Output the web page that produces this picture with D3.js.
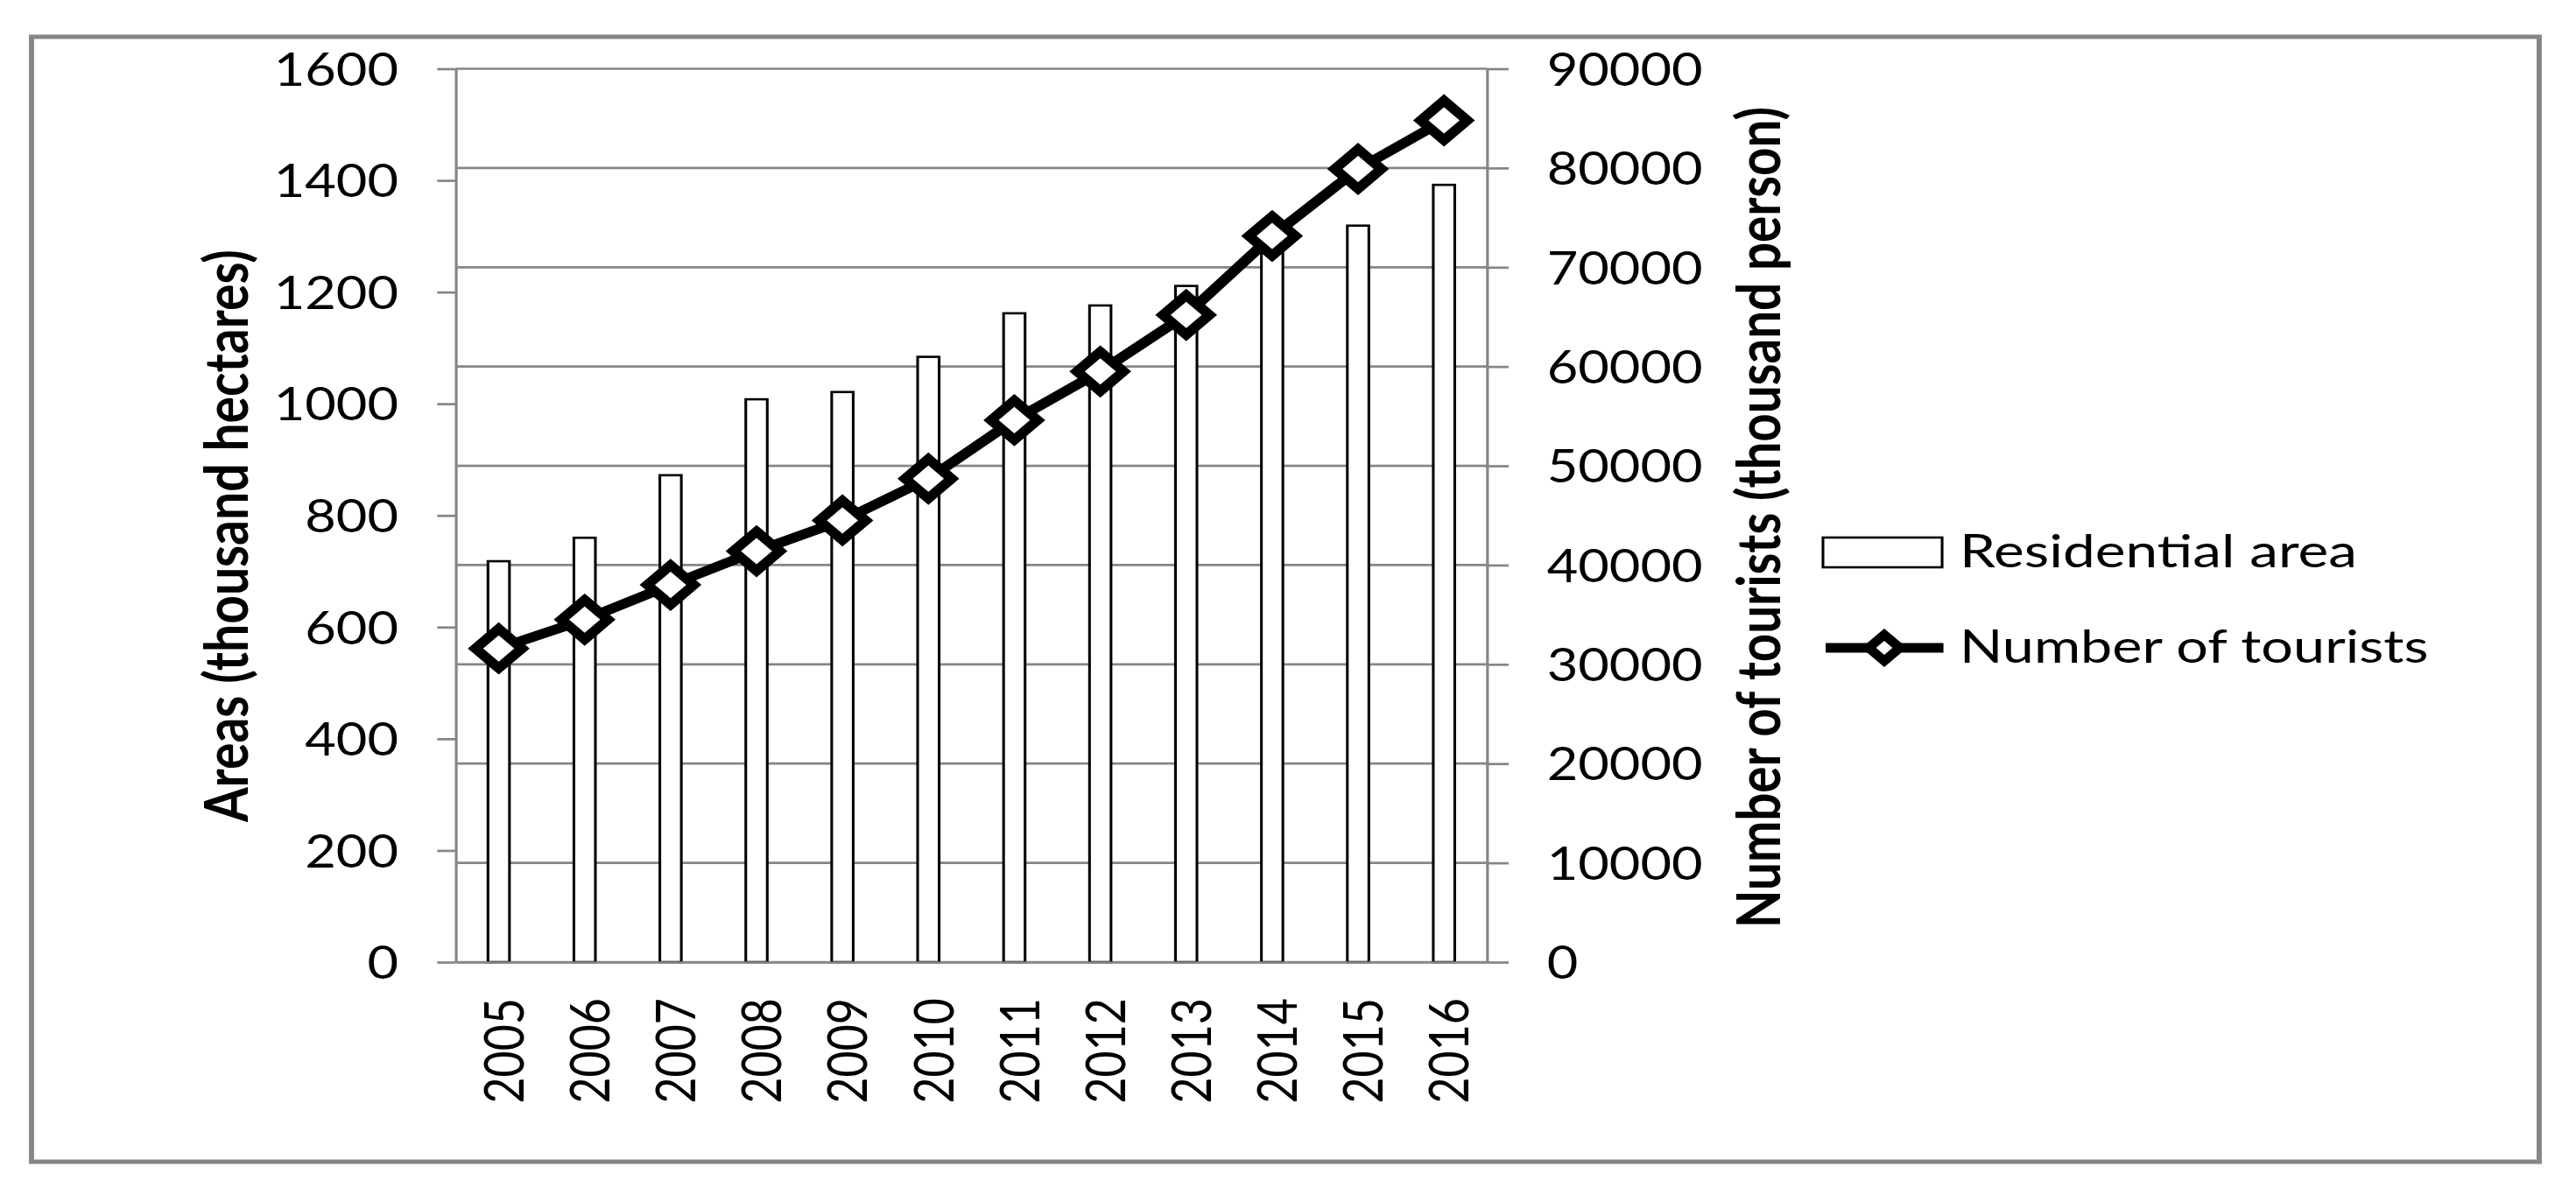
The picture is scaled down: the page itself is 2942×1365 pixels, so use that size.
<!DOCTYPE html>
<html>
<head>
<meta charset="utf-8">
<script src="https://cdn.jsdelivr.net/npm/d3@7"></script>
<style>
  html, body { margin: 0; padding: 0; background: #fff; }
  svg { display: block; }
  text { font-family: "Lato", "Open Sans", sans-serif; fill: #000; }
</style>
</head>
<body>
<svg id="chart"></svg>
<script>
// ---- data ----
const years = ["2005","2006","2007","2008","2009","2010","2011","2012","2013","2014","2015","2016"];
const residentialArea = [718, 760, 872, 1008, 1021, 1084, 1162, 1176, 1211, 1272, 1319, 1392];
const tourists = [31600, 34500, 38000, 41400, 44500, 48700, 54600, 59500, 65200, 73150, 79900, 84800];
const leftTicks = [0, 200, 400, 600, 800, 1000, 1200, 1400, 1600];
const rightTicks = [0, 10000, 20000, 30000, 40000, 50000, 60000, 70000, 80000, 90000];
const seriesNames = ["Residential area", "Number of tourists"];
const leftTitle = "Areas (thousand hectares)";
const rightTitle = "Number of tourists (thousand person)";

// ---- layout (drawn in an unstretched space, then stretched horizontally like the reference) ----
const W = 2942, H = 1365, K = 1.18, VW = W / K;
const gridColor = "#868686";
const plot = { left: 441.1, right: 1439.2, top: 78.5, bottom: 1099 };

const svg = d3.select("#chart")
  .attr("width", W).attr("height", H)
  .attr("viewBox", `0 0 ${VW} ${H}`)
  .attr("preserveAspectRatio", "none");

// outer border
svg.append("rect")
  .attr("x", 30.5).attr("y", 42).attr("width", 2457.6 - 30.5).attr("height", 1327 - 42)
  .attr("fill", "#fff").attr("stroke", gridColor).attr("stroke-width", 5);

const x = d3.scaleBand().domain(years).range([plot.left, plot.right])
  .paddingInner(0.75).paddingOuter(0.375);
const yL = d3.scaleLinear().domain([0, 1600]).range([plot.bottom, plot.top]);
const yR = d3.scaleLinear().domain([0, 90000]).range([plot.bottom, plot.top]);
const cx = d => x(d) + x.bandwidth() / 2;

// gridlines (from right axis ticks)
svg.append("g").selectAll("line").data(rightTicks).join("line")
  .attr("x1", plot.left).attr("x2", plot.right)
  .attr("y1", d => yR(d)).attr("y2", d => yR(d))
  .attr("stroke", gridColor).attr("stroke-width", 2.7);

// bars
svg.append("g").selectAll("rect").data(years).join("rect")
  .attr("x", d => x(d))
  .attr("width", x.bandwidth())
  .attr("y", (d, i) => yL(residentialArea[i]))
  .attr("height", (d, i) => plot.bottom - yL(residentialArea[i]))
  .attr("fill", "#fff").attr("stroke", "#000").attr("stroke-width", 2.6);

// axes
const fontSize = 52;
function styleAxis(g) {
  g.selectAll(".domain").attr("stroke", gridColor).attr("stroke-width", 2.7);
  g.selectAll(".tick line").attr("stroke", gridColor).attr("stroke-width", 2.7);
  g.selectAll(".tick text").attr("font-size", fontSize).attr("font-family", "Lato").attr("fill", "#000");
}
const gL = svg.append("g").attr("transform", `translate(${plot.left},0)`)
  .call(d3.axisLeft(yL).tickValues(leftTicks).tickSize(18).tickSizeOuter(0).tickPadding(37.5).tickFormat(d3.format("d")));
styleAxis(gL);
gL.selectAll(".tick text").attr("dy", "0.36em");

const gR = svg.append("g").attr("transform", `translate(${plot.right},0)`)
  .call(d3.axisRight(yR).tickValues(rightTicks).tickSize(21).tickSizeOuter(0).tickPadding(37).tickFormat(d3.format("d")));
styleAxis(gR);
gR.selectAll(".tick text").attr("dy", "0.36em");

const gB = svg.append("g").attr("transform", `translate(0,${plot.bottom})`)
  .call(d3.axisBottom(x).tickSize(0).tickSizeOuter(0));
styleAxis(gB);
gB.selectAll(".tick text")
  .attr("transform", "rotate(-90)")
  .attr("text-anchor", "end")
  .attr("x", -41).attr("y", 0).attr("dy", "0.46em");

// line
const diamond = {
  draw(ctx, size) {
    const r = Math.sqrt(size / 2);
    ctx.moveTo(0, -r); ctx.lineTo(r, 0); ctx.lineTo(0, r); ctx.lineTo(-r, 0); ctx.closePath();
  }
};
const line = d3.line().x((d, i) => cx(years[i])).y(d => yR(d));
svg.append("path").datum(tourists)
  .attr("d", line).attr("fill", "none").attr("stroke", "#000")
  .attr("stroke-width", 11).attr("stroke-linejoin", "round");
svg.append("g").selectAll("path").data(tourists).join("path")
  .attr("transform", (d, i) => `translate(${cx(years[i])},${yR(d)})`)
  .attr("d", d3.symbol().type(diamond).size(2 * 22.5 * 22.5)())
  .attr("fill", "#fff").attr("stroke", "#000").attr("stroke-width", 10.5)
  .attr("stroke-linejoin", "miter");

// axis titles
svg.append("text")
  .attr("transform", "translate(239.8,612) rotate(-90)")
  .attr("text-anchor", "middle").attr("font-weight", "bold").attr("font-size", 58)
  .attr("textLength", 654).attr("lengthAdjust", "spacingAndGlyphs")
  .text(leftTitle);
svg.append("text")
  .attr("transform", "translate(1722.9,591) rotate(-90)")
  .attr("text-anchor", "middle").attr("font-weight", "bold").attr("font-size", 58)
  .attr("textLength", 938).attr("lengthAdjust", "spacingAndGlyphs")
  .text(rightTitle);

// legend
const lg = svg.append("g");
lg.append("rect").attr("x", 1764.4).attr("y", 614).attr("width", 115.3).attr("height", 34)
  .attr("fill", "#fff").attr("stroke", "#000").attr("stroke-width", 2.6);
lg.append("text").attr("x", 1896.6).attr("y", 648).attr("font-size", fontSize)
  .attr("textLength", 384.7).attr("lengthAdjust", "spacingAndGlyphs").text(seriesNames[0]);
lg.append("line").attr("x1", 1767).attr("x2", 1881).attr("y1", 740).attr("y2", 740)
  .attr("stroke", "#000").attr("stroke-width", 11);
lg.append("path").attr("transform", "translate(1823.7,740)")
  .attr("d", d3.symbol().type(diamond).size(2 * 15 * 15)())
  .attr("fill", "#fff").attr("stroke", "#000").attr("stroke-width", 10);
lg.append("text").attr("x", 1896.6).attr("y", 757).attr("font-size", fontSize)
  .attr("textLength", 453.8).attr("lengthAdjust", "spacingAndGlyphs").text(seriesNames[1]);
</script>
</body>
</html>
